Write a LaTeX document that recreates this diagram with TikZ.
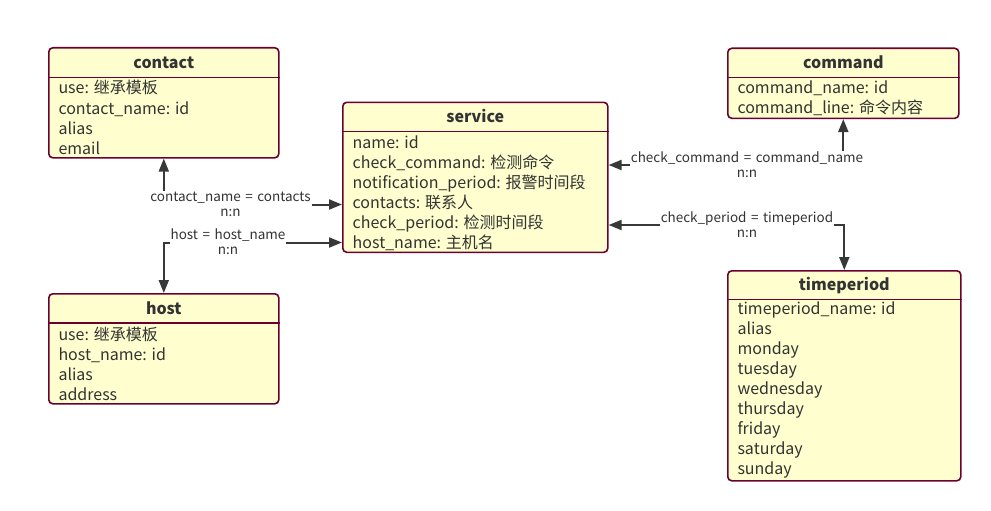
\documentclass[tikz,border=0pt]{standalone}
\usepackage{fontspec}
\setmainfont{Noto Sans CJK SC}
\usetikzlibrary{arrows.meta}
\definecolor{boxfill}{HTML}{FEFECE}
\definecolor{boxline}{HTML}{6B0030}
\definecolor{ink}{HTML}{333333}
\definecolor{linkline}{HTML}{383838}
\newcommand\relfont{\fontsize{13.5}{15}\selectfont\spaceskip=4.5pt\relax}

\tikzset{
	entity/.style={draw=boxline, fill=boxfill, line width=1.6pt, rounded corners=4pt, anchor=north west, inner sep=0pt},
	sep/.style={draw=boxline, line width=1.6pt},
	title/.style={anchor=base, font=\fontsize{16}{20}\selectfont\bfseries, text=ink, inner sep=0pt},
	field/.style={anchor=base west, font=\fontsize{16}{20}\selectfont, text=ink, inner sep=0pt},
	rel/.style={fill=white, font=\relfont, text=ink, align=center, inner sep=1pt},
	link/.style={draw=linkline, line width=2pt, {Triangle[length=13pt,width=10pt]}-{Triangle[length=13pt,width=10pt]}},
}

\begin{document}
\begin{tikzpicture}[x=1pt, y=-1pt]
\useasboundingbox (0,0) rectangle (991,511);

\begin{scope}
	% tables
	\node[entity, minimum width=230pt, minimum height=110pt] (contact) at (48,47) {};
	\node[entity, minimum width=265pt, minimum height=150pt] (service) at (342,101.5) {};
	\node[entity, minimum width=231pt, minimum height=70pt] (command) at (727,47.5) {};
	\node[entity, minimum width=230pt, minimum height=110pt] (host) at (48,293) {};
	\node[entity, minimum width=233pt, minimum height=210pt] (timeperiod) at (727,270) {};

	\draw[sep] (contact.west |- 0,77.5) -- (contact.east |- 0,77.5);
	\draw[sep] (service.west |- 0,131.5) -- (service.east |- 0,131.5);
	\draw[sep] (command.west |- 0,77.7) -- (command.east |- 0,77.7);
	\draw[sep] (host.west |- 0,323) -- (host.east |- 0,323);
	\draw[sep] (timeperiod.west |- 0,299.5) -- (timeperiod.east |- 0,299.5);

	\node[title] (contactT) at (contact.north |- 0,69) {contact};
	\node[title] (serviceT) at (service.north |- 0,122.5) {service};
	\node[title] (commandT) at (command.north |- 0,68.5) {command};
	\node[title] (hostT) at (host.north |- 0,314.5) {host};
	\node[title] (timeperiodT) at (timeperiod.north |- 0,290) {timeperiod};

	% contact
	\node[field] (contactA) at (58.3,94) {use: 继承模板};
	\node[field] (contactB) at (58.3,114) {contact\_name: id};
	\node[field] (contactC) at (58.3,134) {alias};
	\node[field] (contactD) at (58.3,154) {email};

	% service
	\node[field] (serviceA) at (352.5,148) {name: id};
	\node[field] (serviceB) at (352.5,168) {check\_command: 检测命令};
	\node[field] (serviceC) at (352.5,188) {notification\_period: 报警时间段};
	\node[field] (serviceD) at (352.5,208) {contacts: 联系人};
	\node[field] (serviceE) at (352.5,228) {check\_period: 检测时间段};
	\node[field] (serviceF) at (352.5,248) {host\_name: 主机名};

	% command
	\node[field] (commandA) at (737.3,93.5) {command\_name: id};
	\node[field] (commandB) at (737.3,113.5) {command\_line: 命令内容};

	% host
	\node[field] (hostA) at (58.3,340) {use: 继承模板};
	\node[field] (hostB) at (58.3,360) {host\_name: id};
	\node[field] (hostC) at (58.3,380) {alias};
	\node[field] (hostD) at (58.3,400) {address};

	% timeperiod
	\node[field] (timeperiodA) at (737.3,314.5) {timeperiod\_name: id};
	\node[field] (timeperiodB) at (737.3,334.5) {alias};
	\node[field] (timeperiodC) at (737.3,354.5) {monday};
	\node[field] (timeperiodD) at (737.3,374.5) {tuesday};
	\node[field] (timeperiodE) at (737.3,394.5) {wednesday};
	\node[field] (timeperiodF) at (737.3,414.5) {thursday};
	\node[field] (timeperiodG) at (737.3,434.5) {friday};
	\node[field] (timeperiodH) at (737.3,454.5) {saturday};
	\node[field] (timeperiodI) at (737.3,474.5) {sunday};
\end{scope}

\begin{scope}
	\draw[link] (contact.south) |- (service.west |- 0,204.5);
	\draw[link] (host.north) |- (service.west |- 0,242.5);
	\draw[link] (command.south) |- (service.east |- 0,165);
	\draw[link] (timeperiod.north) |- (service.east |- 0,225);

	\node[rel] (contactrel) at (230.5,204) {contact\_name = contacts\\n:n};
	\node[rel] (hostrel) at (228,242) {host = host\_name\\n:n};
	\node[rel] (commandrel) at (747,165) {check\_command = command\_name\\n:n};
	\node[rel] (timeperiodrel) at (747,225) {check\_period = timeperiod\\n:n};
\end{scope}

\end{tikzpicture}
\end{document}
